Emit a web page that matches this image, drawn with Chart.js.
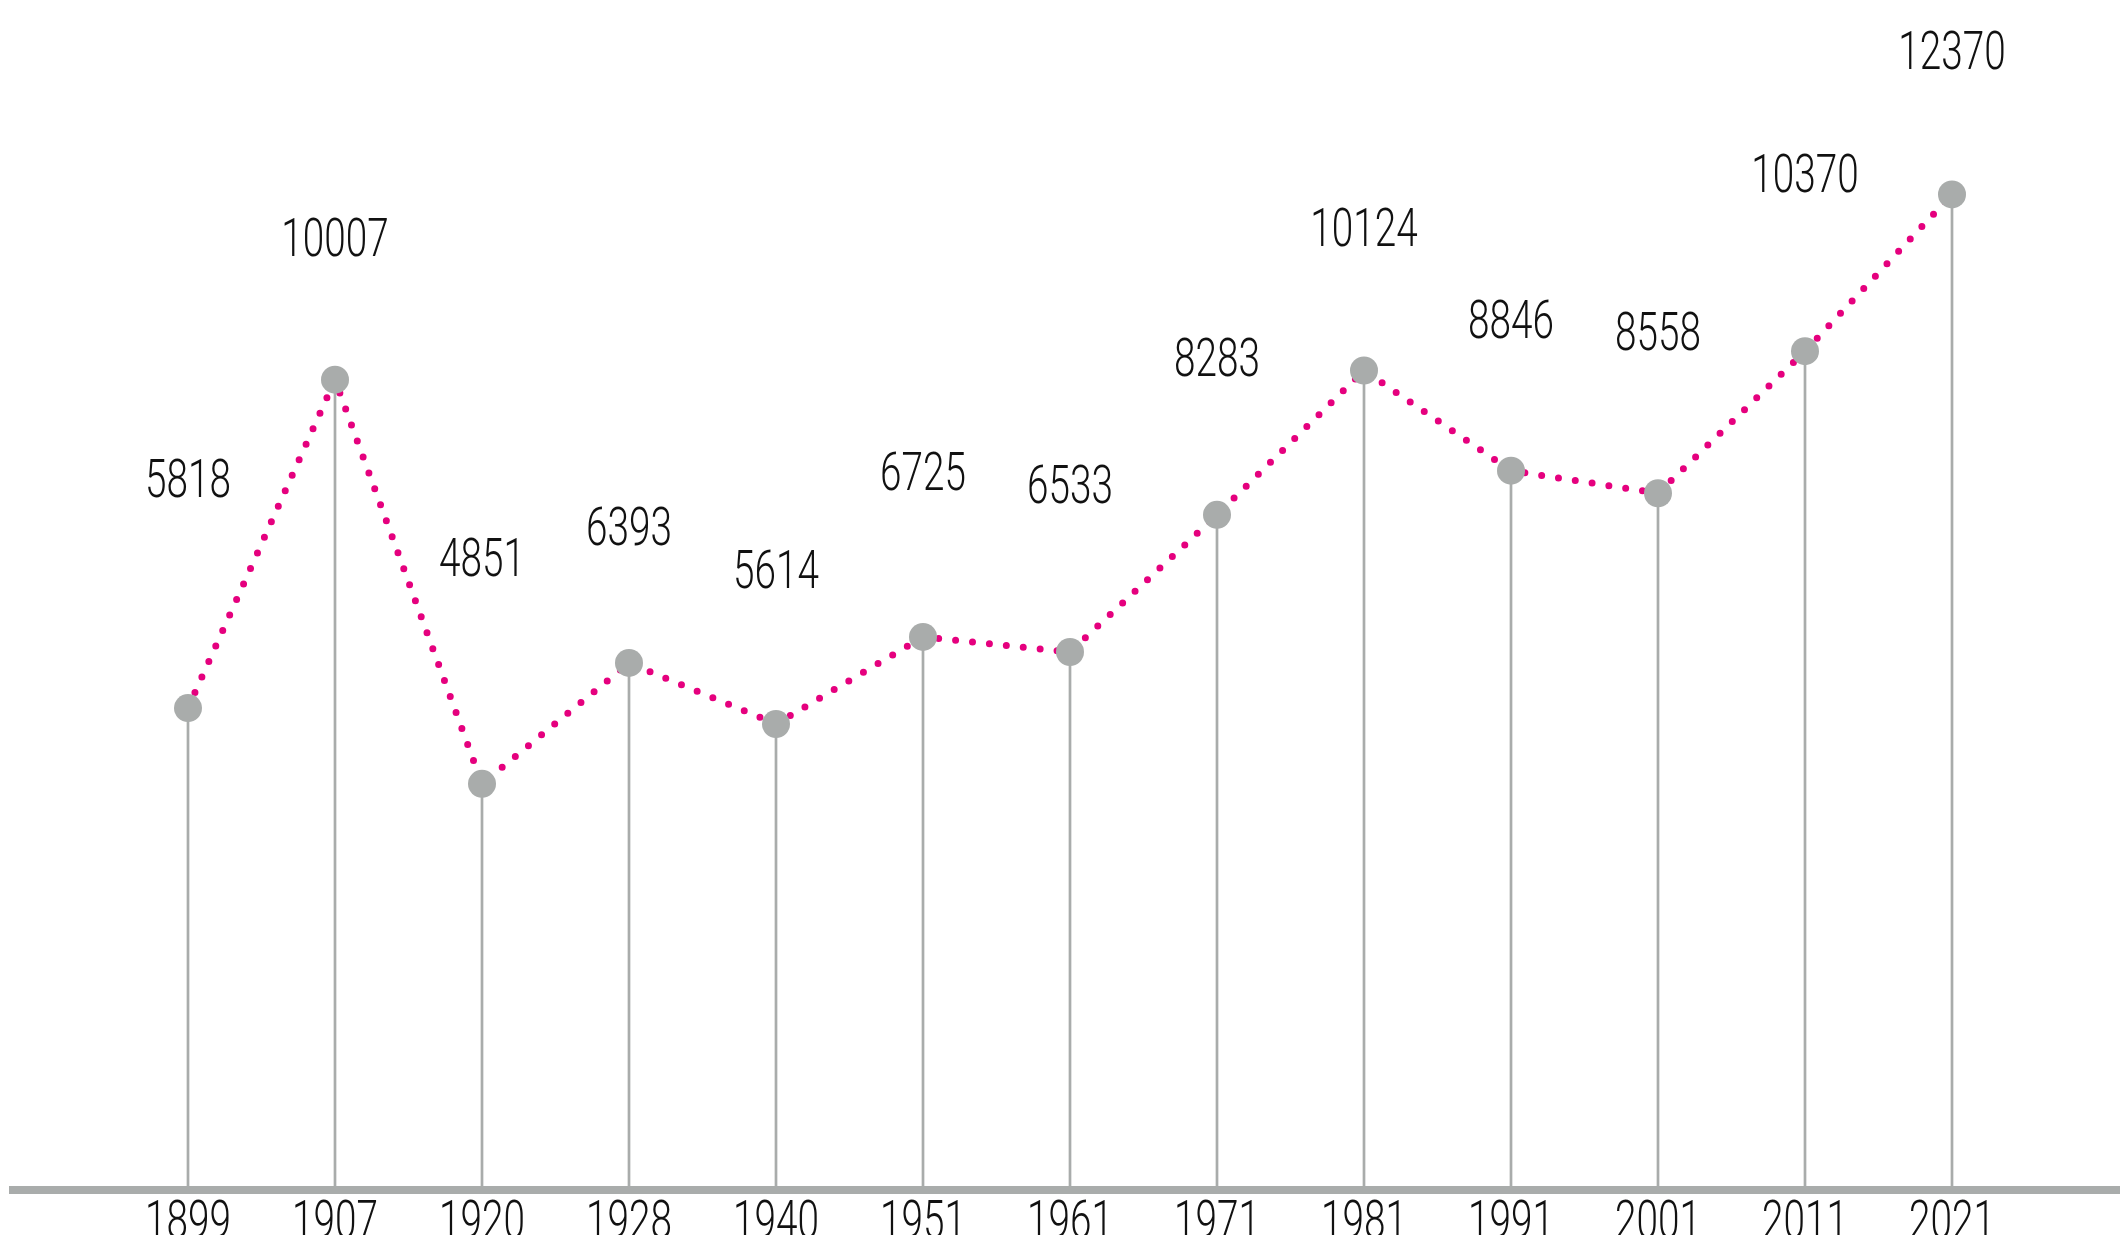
<!DOCTYPE html>
<html>
<head>
<meta charset="utf-8">
<script src="https://cdn.jsdelivr.net/npm/chart.js@4"></script>
<style>
    body { margin: 0; background: #ffffff; }
    canvas { display: block; }
</style>
</head>
<body>
<canvas id="graficoPopulacao" width="2120" height="1235"></canvas>
<script>
const anos = ["1899", "1907", "1920", "1928", "1940", "1951", "1961", "1971", "1981", "1991", "2001", "2011", "2021"];
const habitantes = [5818, 10007, 4851, 6393, 5614, 6725, 6533, 8283, 10124, 8846, 8558, 10370, 12370];

// distância (px) entre o ponto e o centro do rótulo de valor
const elevacaoRotulo = [230, 143, 227, 137, 155, 166, 168, 158, 143, 152, 162, 178, 144];

const cinza = "#a9acab";
const magenta = "#e5007e";
const fonte = '300 53px Roboto, Lato, "DejaVu Sans Condensed", sans-serif';
const estreitar = 0.73;
const meiaAltura = 19; // metade da altura dos algarismos

function texto(ctx, str, x, y) {
    ctx.save();
    ctx.translate(x, y);
    ctx.scale(estreitar, 1);
    ctx.fillText(str, 0, 0);
    ctx.restore();
}

const hastes = {
    id: "hastes",
    beforeDatasetsDraw(chart) {
        const ctx = chart.ctx;
        const area = chart.chartArea;
        const pontos = chart.getDatasetMeta(0).data;

        ctx.save();
        // linha de base
        ctx.fillStyle = cinza;
        ctx.fillRect(9, area.bottom - 4, chart.width - 9, 8);

        // hastes verticais
        ctx.strokeStyle = cinza;
        ctx.lineWidth = 2.7;
        pontos.forEach(function (p) {
            ctx.beginPath();
            ctx.moveTo(p.x, p.y);
            ctx.lineTo(p.x, area.bottom);
            ctx.stroke();
        });
        ctx.restore();
    },
    afterDatasetsDraw(chart) {
        const ctx = chart.ctx;
        const area = chart.chartArea;
        const pontos = chart.getDatasetMeta(0).data;

        ctx.save();
        ctx.font = fonte;
        ctx.fillStyle = "#111111";
        ctx.textAlign = "center";

        ctx.textBaseline = "alphabetic";
        pontos.forEach(function (p, i) {
            texto(ctx, String(habitantes[i]), p.x, p.y - elevacaoRotulo[i] + meiaAltura);
        });

        ctx.textBaseline = "top";
        const x = chart.scales.x;
        anos.forEach(function (ano, i) {
            texto(ctx, ano, x.getPixelForValue(i), area.bottom + 8);
        });
        ctx.restore();
    }
};

document.addEventListener("DOMContentLoaded", function () {

    const ctx = document.getElementById("graficoPopulacao");

    new Chart(ctx, {
        type: "line",

        data: {
            labels: anos,

            datasets: [{
                data: habitantes,
                borderColor: magenta,
                borderWidth: 7,
                borderDash: [0, 17],
                borderCapStyle: "round",
                tension: 0,
                fill: false,
                pointRadius: 14,
                pointHoverRadius: 14,
                pointBackgroundColor: cinza,
                pointBorderWidth: 0
            }]
        },

        options: {
            responsive: false,
            animation: false,
            events: [],

            layout: {
                autoPadding: false,
                padding: { left: 188, right: 168, top: 0, bottom: 45 }
            },

            plugins: {
                legend: { display: false },
                tooltip: { enabled: false }
            },

            scales: {
                x: {
                    display: false,
                    offset: false
                },

                y: {
                    display: false,
                    min: -330,
                    max: 14850
                }
            }
        },

        plugins: [hastes]
    });

});
</script>
</body>
</html>
